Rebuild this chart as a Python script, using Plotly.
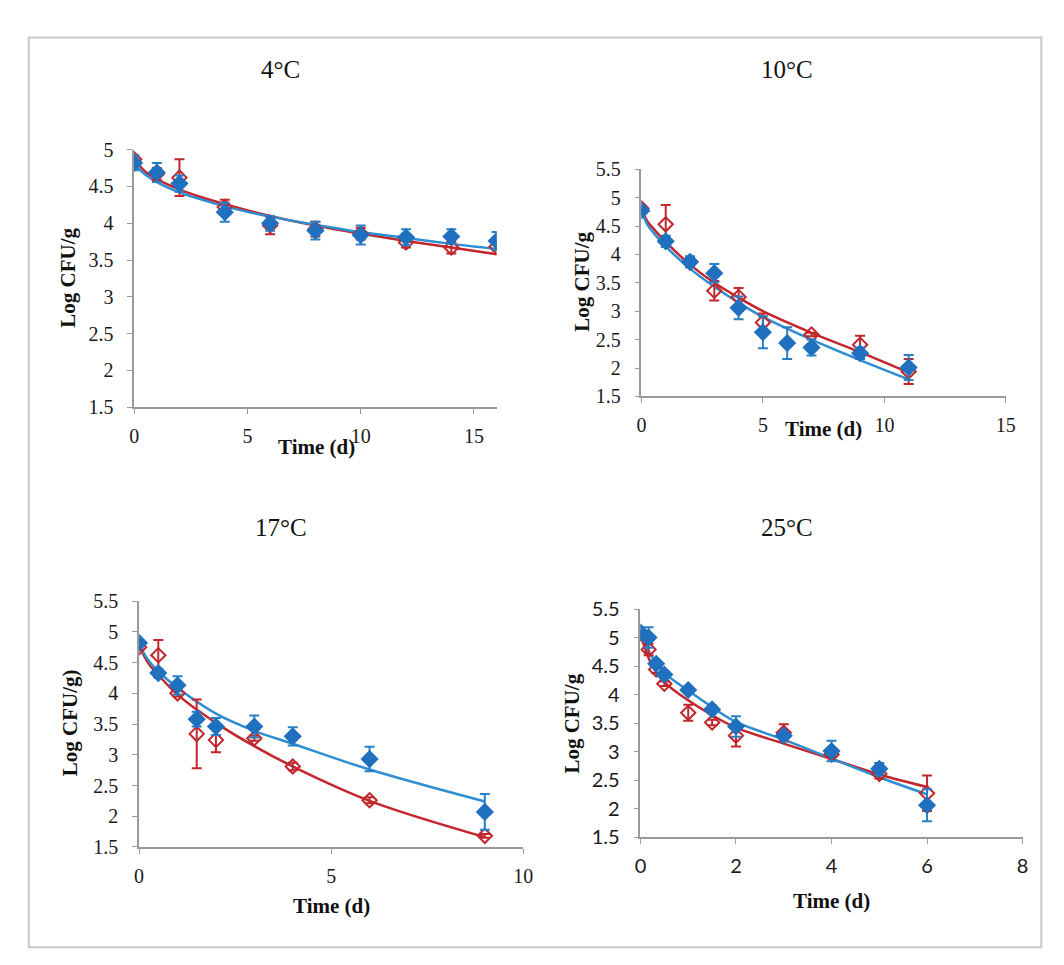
import plotly.graph_objects as go

W, H = 1064, 965

# ---------------- data ----------------
# 4 °C
t4_days = [0, 1, 2, 4, 6, 8, 10, 12, 14, 16]
t4_red = [4.87, 4.67, 4.62, 4.22, 3.97, 3.92, 3.86, 3.74, 3.67, 3.68]
t4_red_err = [0.05, 0.08, 0.25, 0.10, 0.12, 0.10, 0.08, 0.07, 0.08, 0.05]
t4_blue = [4.82, 4.69, 4.54, 4.15, 4.00, 3.90, 3.84, 3.81, 3.82, 3.76]
t4_blue_err = [0.10, 0.13, 0.11, 0.13, 0.10, 0.12, 0.13, 0.11, 0.10, 0.12]
t4_fit_days = [0, 0.5, 1, 2, 3, 4, 6, 8, 10, 12, 14, 16]
t4_fit_red = [4.87, 4.70, 4.60, 4.46, 4.35, 4.26, 4.10, 3.97, 3.86, 3.76, 3.67, 3.58]
t4_fit_blue = [4.80, 4.66, 4.56, 4.42, 4.32, 4.23, 4.09, 3.98, 3.88, 3.80, 3.72, 3.65]

# 10 °C
t10_red_days = [0, 1, 2, 3, 4, 5, 7, 9, 11]
t10_red = [4.81, 4.53, 3.86, 3.36, 3.25, 2.80, 2.59, 2.41, 1.94]
t10_red_err = [0.05, 0.34, 0.08, 0.17, 0.16, 0.16, 0.03, 0.16, 0.22]
t10_blue_days = [0, 1, 2, 3, 4, 5, 6, 7, 9, 11]
t10_blue = [4.77, 4.23, 3.87, 3.67, 3.06, 2.63, 2.44, 2.36, 2.26, 2.01]
t10_blue_err = [0.05, 0.10, 0.10, 0.16, 0.20, 0.28, 0.28, 0.14, 0.10, 0.22]
t10_fit_days = [0, 0.25, 0.5, 1, 2, 3, 4, 5, 7, 9, 11]
t10_fit_red = [4.80, 4.58, 4.45, 4.22, 3.82, 3.50, 3.24, 3.00, 2.62, 2.28, 1.92]
t10_fit_blue = [4.78, 4.52, 4.38, 4.14, 3.75, 3.43, 3.15, 2.90, 2.50, 2.14, 1.80]

# 17 °C
t17_days = [0, 0.5, 1, 1.5, 2, 3, 4, 6, 9]
t17_red = [4.75, 4.62, 4.00, 3.34, 3.24, 3.27, 2.81, 2.26, 1.68]
t17_red_err = [0.04, 0.25, 0.05, 0.56, 0.20, 0.04, 0.06, 0.05, 0.03]
t17_blue = [4.82, 4.33, 4.13, 3.58, 3.46, 3.46, 3.30, 2.93, 2.07]
t17_blue_err = [0.04, 0.07, 0.15, 0.12, 0.14, 0.18, 0.15, 0.20, 0.29]
t17_fit_days = [0, 0.25, 0.5, 1, 2, 3, 4, 6, 9]
t17_fit_red = [4.78, 4.48, 4.30, 3.98, 3.52, 3.14, 2.81, 2.25, 1.66]
t17_fit_blue = [4.80, 4.53, 4.36, 4.09, 3.67, 3.39, 3.18, 2.76, 2.24]

# 25 °C
t25_days = [0, 0.17, 0.33, 0.5, 1, 1.5, 2, 3, 4, 5, 6]
t25_red = [5.07, 4.79, 4.44, 4.19, 3.68, 3.51, 3.28, 3.33, 2.95, 2.61, 2.27]
t25_red_err = [0.04, 0.10, 0.06, 0.04, 0.14, 0.05, 0.19, 0.15, 0.05, 0.08, 0.31]
t25_blue = [5.09, 5.00, 4.54, 4.35, 4.08, 3.74, 3.44, 3.28, 3.01, 2.70, 2.06]
t25_blue_err = [0.04, 0.18, 0.05, 0.05, 0.03, 0.07, 0.18, 0.05, 0.18, 0.10, 0.28]
t25_fit_days = [0, 0.25, 0.5, 1, 1.5, 2, 3, 4, 5, 6]
t25_fit_red = [5.05, 4.50, 4.22, 3.90, 3.64, 3.42, 3.14, 2.87, 2.60, 2.38]
t25_fit_blue = [5.07, 4.65, 4.38, 4.07, 3.78, 3.52, 3.21, 2.88, 2.55, 2.25]

titles = ["4\u00b0C", "10\u00b0C", "17\u00b0C", "25\u00b0C"]
ylabels = ["Log CFU/g", "Log CFU/g", "Log CFU/g)", "Log CFU/g"]
xlabel = "Time (d)"

RED = "#C0272D"
RED_LINE = "#C3262C"
BLUE = "#1F70BE"
BLUE_ERR = "#2A80C4"
BLUE_LINE = "#2E8ED2"

# ---------------- layout geometry (pixels) ----------------
panels = [
    dict(x0=122, x1=490, y0=132, y1=396, xr=[0, 16], yr=[1.5, 5], xt=[0, 5, 10, 15], yt=[1.5, 2, 2.5, 3, 3.5, 4, 4.5, 5],
         font="Liberation Serif", title=(271, 50), ylab=(55, 263), xlab=(307, 437)),
    dict(x0=637, x1=1007, y0=152, y1=385, xr=[0, 15], yr=[1.5, 5.5], xt=[0, 5, 10, 15], yt=[1.5, 2, 2.5, 3, 3.5, 4, 4.5, 5, 5.5],
         font="Liberation Serif", title=(785, 50), ylab=(577, 267), xlab=(822, 418)),
    dict(x0=127, x1=517, y0=595, y1=847, xr=[0, 10], yr=[1.5, 5.5], xt=[0, 5, 10], yt=[1.5, 2, 2.5, 3, 3.5, 4, 4.5, 5, 5.5],
         font="Liberation Serif", title=(271, 519), ylab=(57, 720), xlab=(322, 908)),
    dict(x0=636, x1=1024, y0=603, y1=837, xr=[0, 8], yr=[1.5, 5.5], xt=[0, 2, 4, 6, 8], yt=[1.5, 2, 2.5, 3, 3.5, 4, 4.5, 5, 5.5],
         font="Lato", title=(785, 519), ylab=(567, 720), xlab=(830, 902)),
]

series = [
    (t4_days, t4_red, t4_red_err, t4_days, t4_blue, t4_blue_err, t4_fit_days, t4_fit_red, t4_fit_blue),
    (t10_red_days, t10_red, t10_red_err, t10_blue_days, t10_blue, t10_blue_err, t10_fit_days, t10_fit_red, t10_fit_blue),
    (t17_days, t17_red, t17_red_err, t17_days, t17_blue, t17_blue_err, t17_fit_days, t17_fit_red, t17_fit_blue),
    (t25_days, t25_red, t25_red_err, t25_days, t25_blue, t25_blue_err, t25_fit_days, t25_fit_red, t25_fit_blue),
]

fig = go.Figure()
layout = dict(width=W, height=H, margin=dict(l=0, r=0, t=0, b=0),
              paper_bgcolor="white", plot_bgcolor="white", showlegend=False)
annotations = []

for i, (p, s) in enumerate(zip(panels, series)):
    n = "" if i == 0 else str(i + 1)
    xa, ya = "x" + n, "y" + n
    rd, rv, re, bd, bv, be, fd, fr, fb = s
    fig.add_trace(go.Scatter(x=fd, y=fr, mode="lines", line=dict(color=RED_LINE, width=2.5, shape="spline", smoothing=1.0),
                             xaxis=xa, yaxis=ya, hoverinfo="skip"))
    fig.add_trace(go.Scatter(x=fd, y=fb, mode="lines", line=dict(color=BLUE_LINE, width=2.5, shape="spline", smoothing=1.0),
                             xaxis=xa, yaxis=ya, hoverinfo="skip"))
    fig.add_trace(go.Scatter(x=rd, y=rv, mode="markers",
                             marker=dict(symbol="diamond-open", size=11, color=RED, line=dict(width=2, color=RED)),
                             error_y=dict(type="data", array=re, visible=True, color=RED, thickness=2, width=5),
                             xaxis=xa, yaxis=ya))
    fig.add_trace(go.Scatter(x=bd, y=bv, mode="markers",
                             marker=dict(symbol="diamond", size=14, color=BLUE, line=dict(width=0)),
                             error_y=dict(type="data", array=be, visible=True, color=BLUE_ERR, thickness=2, width=5),
                             xaxis=xa, yaxis=ya))

    tickfont = dict(family=p["font"], size=20, color="#1a1a1a")
    layout["xaxis" + n] = dict(domain=[p["x0"] / W, p["x1"] / W], range=p["xr"], anchor=ya,
                               tickvals=p["xt"], ticks="outside", ticklen=5, tickcolor="#9a9a9a",
                               showline=True, linecolor="#9a9a9a", linewidth=1.5, showgrid=False, zeroline=False,
                               tickfont=tickfont, ticklabelstandoff=5)
    layout["yaxis" + n] = dict(domain=[1 - p["y1"] / H, 1 - p["y0"] / H], range=p["yr"], anchor=xa,
                               tickvals=p["yt"], ticks="outside", ticklen=5, tickcolor="#9a9a9a",
                               showline=True, linecolor="#9a9a9a", linewidth=1.5, showgrid=False, zeroline=False,
                               tickfont=tickfont, ticklabelstandoff=10)

    tx, ty = p["title"]
    annotations.append(dict(text=titles[i], x=tx / W, y=1 - ty / H, xref="paper", yref="paper",
                            showarrow=False, xanchor="center", yanchor="middle",
                            font=dict(family="Liberation Serif", size=25, color="#111")))
    lx, ly = p["ylab"]
    annotations.append(dict(text="<b>" + ylabels[i] + "</b>", x=lx / W, y=1 - ly / H, xref="paper", yref="paper",
                            showarrow=False, xanchor="center", yanchor="middle", textangle=-90,
                            font=dict(family="Liberation Serif", size=21, color="#111")))
    bx, by = p["xlab"]
    annotations.append(dict(text="<b>" + xlabel + "</b>", x=bx / W, y=1 - by / H, xref="paper", yref="paper",
                            showarrow=False, xanchor="center", yanchor="middle",
                            font=dict(family="Liberation Serif", size=21, color="#111")))

layout["annotations"] = annotations
layout["shapes"] = [dict(type="rect", xref="paper", yref="paper",
                         x0=15 / W, x1=1043 / W, y0=1 - 950 / H, y1=1 - 17 / H,
                         line=dict(color="#c8c8c8", width=2), fillcolor="rgba(0,0,0,0)")]
fig.update_layout(**layout)
fig.write_html("out.html")
